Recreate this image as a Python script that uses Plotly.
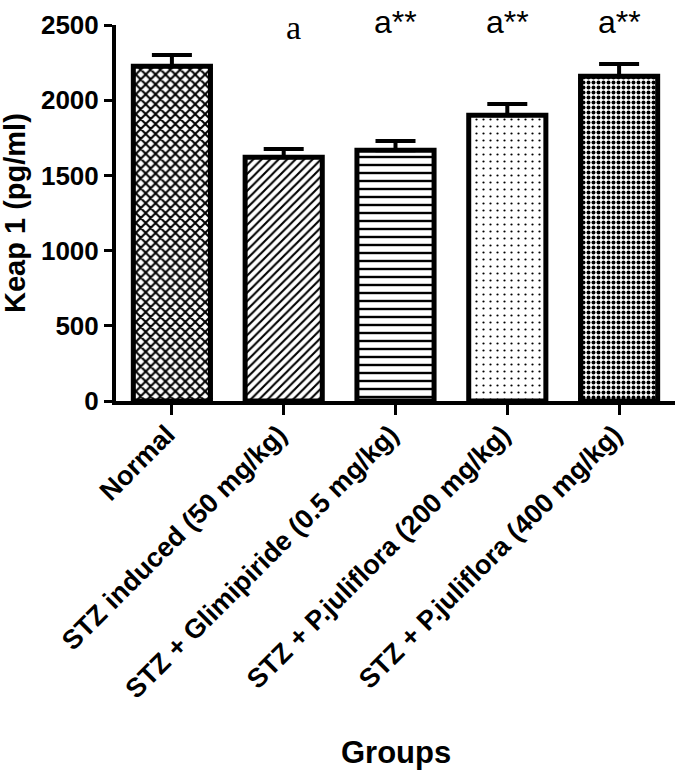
import plotly.graph_objects as go

categories = ["Normal", "STZ induced (50 mg/kg)", "STZ + Glimipiride (0.5 mg/kg)",
              "STZ + P.juliflora (200 mg/kg)", "STZ + P.juliflora (400 mg/kg)"]
means = [2225, 1620, 1668, 1900, 2160]
sem = [75, 55, 60, 75, 80]
sig_labels = ["", "a", "a**", "a**", "a**"]
y_ticks = [0, 500, 1000, 1500, 2000, 2500]

shapes = ["x", "/", "-", ".", "."]
psizes = [7, 6, 8, 7, 5]
psolid = [0.5, 0.35, 0.3, 0.08, 0.5]

fig = go.Figure()
fig.add_trace(go.Bar(
    x=list(range(len(categories))), y=means,
    width=0.69,
    marker=dict(color="white", line=dict(color="black", width=5),
                pattern=dict(shape=shapes, size=psizes, solidity=psolid,
                             fgcolor="black", bgcolor="white", fillmode="replace")),
    error_y=dict(type="data", array=sem, arrayminus=[0]*len(sem), symmetric=False,
                 color="black", thickness=4, width=20),
))

for i, lab in enumerate(sig_labels):
    if not lab:
        continue
    if lab == "a":
        font = dict(family="Liberation Serif, Times New Roman, serif", size=34, color="black")
        yv = 0.994
        xs = 10
    else:
        font = dict(family="Liberation Sans, Arial, sans-serif", size=32, color="black")
        yv = 1.008
        xs = 0
    fig.add_annotation(x=i, y=yv, text=lab, showarrow=False, font=font, xshift=xs,
                       xref="x", yref="paper", yanchor="middle")

fig.add_annotation(x=0.5, y=0, xref="paper", yref="paper", yshift=-351,
                   text="<b>Groups</b>", showarrow=False, yanchor="middle",
                   font=dict(size=31, family="Liberation Sans, Arial, sans-serif", color="black"))
fig.add_annotation(x=0, y=0.5, xref="paper", yref="paper", xshift=-101,
                   text="<b>Keap 1 (pg/ml)</b>", showarrow=False, textangle=-90,
                   xanchor="center", yanchor="middle",
                   font=dict(size=29, family="Liberation Sans, Arial, sans-serif", color="black"))

fig.update_layout(
    width=677, height=774,
    margin=dict(l=116, r=2, t=25, b=373),
    plot_bgcolor="white", paper_bgcolor="white",
    showlegend=False,
    font=dict(family="Liberation Sans, Arial, sans-serif", color="black"),
)
fig.update_xaxes(
    range=[-0.5, 4.5], tickvals=list(range(len(categories))), ticktext=categories,
    tickangle=-45, tickfont=dict(size=27, family="Liberation Sans, Arial, sans-serif", weight="bold"),
    showline=True, linecolor="black", linewidth=4,
    ticks="outside", ticklen=10, tickwidth=3, tickcolor="black",
    ticklabelstandoff=-7, ticklabelshift=-5,
    showgrid=False, zeroline=False, automargin=False,
)
fig.update_yaxes(
    range=[0, 2500], tickvals=y_ticks,
    tickfont=dict(size=26, family="Liberation Sans, Arial, sans-serif", weight="bold"),
    showline=True, linecolor="black", linewidth=4,
    ticks="outside", ticklen=8, tickwidth=3, tickcolor="black",
    showgrid=False, zeroline=False, automargin=False,
)
fig.write_html("out.html", config={"displayModeBar": False},
               post_script="document.body.style.margin='0';")
